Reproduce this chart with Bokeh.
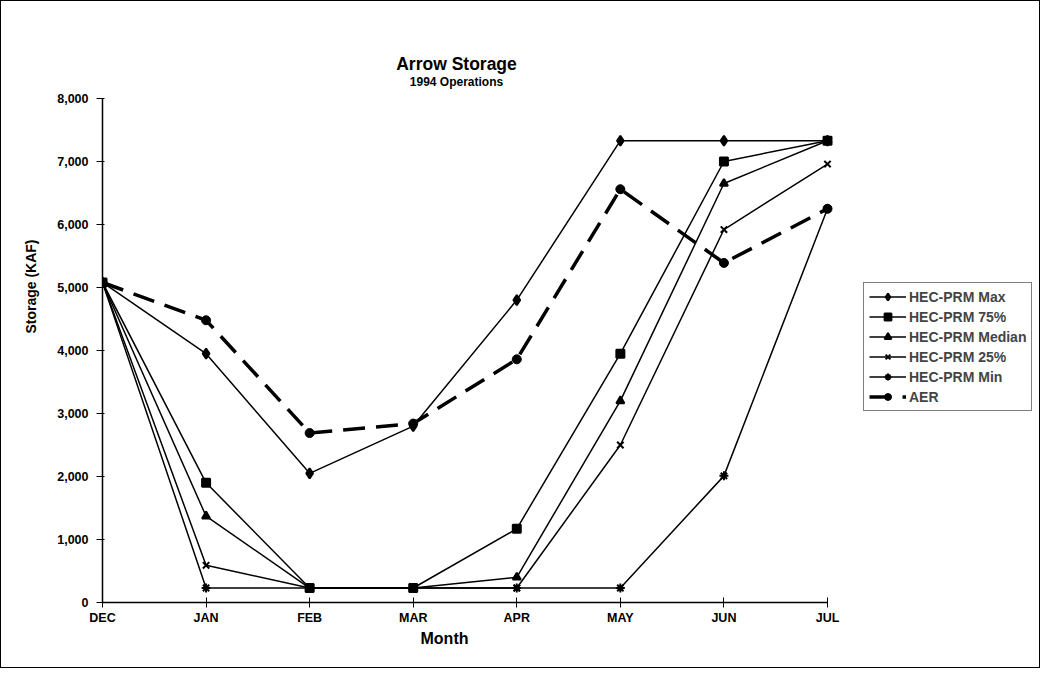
from bokeh.plotting import figure
from bokeh.models import (Range1d, FixedTicker, NumeralTickFormatter, Legend,
                          LegendItem, Title, Label)
from bokeh.embed import file_html
from bokeh.resources import INLINE

months = ["DEC", "JAN", "FEB", "MAR", "APR", "MAY", "JUN", "JUL"]
hec_max = [5080, 3950, 2050, 2800, 4800, 7330, 7330, 7330]
hec_75 = [5080, 1900, 230, 230, 1170, 3950, 7000, 7330]
hec_median = [5080, 1370, 230, 230, 400, 3200, 6650, 7330]
hec_25 = [5080, 590, 230, 230, 230, 2500, 5920, 6960]
hec_min = [5080, 230, 230, 230, 230, 230, 2010, 6250]
aer = [5080, 4480, 2690, 2840, 3860, 6560, 5390, 6250]
y_ticks = [0, 1000, 2000, 3000, 4000, 5000, 6000, 7000, 8000]
y_max = 8000

FONT = "Liberation Sans"
xs = list(range(len(months)))

# ---- layout (pixels) ----
W, H = 1040, 668
LEFT, RIGHT, TOP, BOTTOM = 101, 1, 2, 67
x0_px, x7_px = 101, 826          # DEC .. JUL
y0_px, y8_px = 601, 97           # 0 .. 8000
px_per_x = (x7_px - x0_px) / (len(months) - 1)
px_per_y = (y0_px - y8_px) / y_max
x_end = (W - LEFT - RIGHT) / px_per_x
y_end = (y0_px - TOP) / px_per_y


def dx(px):
    return (px - x0_px) / px_per_x


def dy(py):
    return (y0_px - py) / px_per_y


p = figure(width=W, height=H, output_backend="svg", toolbar_location=None,
           x_range=Range1d(0, x_end), y_range=Range1d(0, y_end),
           min_border_left=LEFT, min_border_right=RIGHT, min_border_top=TOP,
           min_border_bottom=BOTTOM, title=None,
           styles={"border": "1px solid black"})
p.outline_line_color = None
p.xgrid.visible = False
p.ygrid.visible = False

# titles
p.add_layout(Label(x=dx(455), y=dy(62), text="Arrow Storage",
                   text_align="center", text_baseline="middle",
                   text_font=FONT, text_font_size="17.5px",
                   text_font_style="bold", text_color="black"))
p.add_layout(Label(x=dx(455), y=dy(80), text="1994 Operations",
                   text_align="center", text_baseline="middle",
                   text_font=FONT, text_font_size="12px",
                   text_font_style="bold", text_color="black"))

# axes
p.xaxis.ticker = FixedTicker(ticks=xs)
p.xaxis.bounds = (0, len(months) - 1)
p.xaxis.major_label_overrides = {i: m for i, m in enumerate(months)}
p.yaxis.ticker = FixedTicker(ticks=y_ticks)
p.yaxis.bounds = (0, y_max)
p.yaxis.formatter = NumeralTickFormatter(format="0,0")
for ax in (p.xaxis[0], p.yaxis[0]):
    ax.axis_line_color = "black"
    ax.axis_line_width = 1.5
    ax.major_tick_line_color = "black"
    ax.major_tick_line_width = 1
    ax.minor_tick_line_color = None
    ax.major_label_text_font = FONT
    ax.major_label_text_font_style = "bold"
    ax.major_label_text_font_size = "12.5px"
    ax.major_label_text_color = "black"
p.xaxis.major_tick_in = 5
p.xaxis.major_tick_out = 5
p.yaxis.major_tick_in = 2
p.yaxis.major_tick_out = 6
p.xaxis.major_label_standoff = 3
p.yaxis.major_label_standoff = 8

p.add_layout(Title(text="Storage (KAF)", align="right", offset=236,
                   text_font=FONT, text_font_size="14px",
                   text_font_style="bold", text_color="black", standoff=32),
             "left")
p.add_layout(Title(text="Month", align="left", offset=318,
                   text_font=FONT, text_font_size="16px",
                   text_font_style="bold", text_color="black", standoff=0),
             "below")

series = [
    ("HEC-PRM Max", hec_max, "diamond", 10),
    ("HEC-PRM 75%", hec_75, "square", 8),
    ("HEC-PRM Median", hec_median, "triangle", 8),
    ("HEC-PRM 25%", hec_25, "x", 9),
    ("HEC-PRM Min", hec_min, "asterisk", 9),
]
items = []
for name, vals, marker, size in series:
    l = p.line(xs, vals, line_color="black", line_width=1.5)
    s = p.scatter(xs, vals, marker=marker, size=size, fill_color="black",
                  line_color="black", line_width=2)
    items.append(LegendItem(label=name, renderers=[l, s]))

la = p.line(xs, aer, line_color="black", line_width=3.5, line_dash="22 11")
sa = p.scatter(xs, aer, marker="circle", size=9, fill_color="black",
               line_color="black")
items.append(LegendItem(label="AER", renderers=[la, sa]))

# location = bottom-left corner of the legend box, in pixels from the
# frame's bottom-left corner
legend = Legend(items=items, location=(761, 191), border_line_color="black",
                border_line_width=1.5, background_fill_color="white",
                label_text_font=FONT, label_text_font_style="bold",
                label_text_font_size="14px", glyph_width=37, glyph_height=17,
                label_height=17, spacing=3, padding=5, margin=0,
                label_standoff=3)
p.add_layout(legend, "center")

open("out.html", "w").write(file_html(p, INLINE))
